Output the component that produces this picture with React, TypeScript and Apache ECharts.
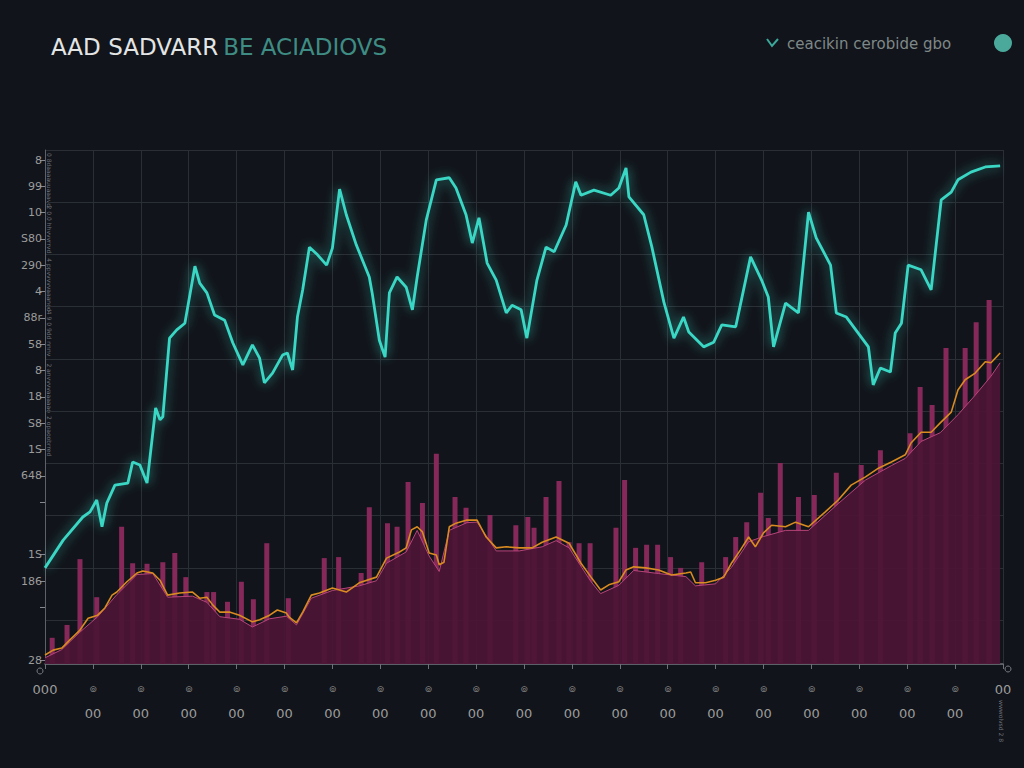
import { useEffect, useRef } from "react";
import * as echarts from "echarts";

// Heading and legend copy
const titleMain = "AAD SADVARR";
const titleAccent = "BE ACIADIOVS";
const legendLabel = "ceacikin cerobide gbo";

// Left tick labels, top to bottom ("" = tick only)
const yTickLabels = ["8", "99", "10", "S80", "290", "4", "88r", "58", "8", "18", "S8", "1S", "648", "", "", "1S", "186", "", "", "28"];
const yTickHidden = [14, 18];

// Bottom tick labels, one per step 0..20
const xUpperLabels = ["000", "⊚", "⊚", "⊚", "⊚", "⊚", "⊚", "⊚", "⊚", "⊚", "⊚", "⊚", "⊚", "⊚", "⊚", "⊚", "⊚", "⊚", "⊚", "⊚", "00"];
const xLowerLabels = ["", "00", "00", "00", "00", "00", "00", "00", "00", "00", "00", "00", "00", "00", "00", "00", "00", "00", "00", "00", ""];

// Small vertical notes in the left strip
const stripNotes = ["0 8daaaauuaaavd", "2 0.0 hhvvvrrvd", "4 ppvvvvvaaanod", "4 9 0 9dd nnnv", "2 anvvvvaaaaao", "2 opaoobrred"];

// Cyan signal line [x, y]
const signalLine: [number, number][] = [
  [0, 18.7], [0.38, 24.1], [0.79, 28.6], [0.94, 29.6], [1.08, 31.9], [1.19, 26.7], [1.29, 31.3], [1.46, 34.8],
  [1.73, 35.2], [1.83, 39.3], [1.98, 38.7], [2.13, 35.2], [2.31, 49.8], [2.4, 47.5], [2.46, 48.1], [2.6, 63.4],
  [2.75, 65], [2.92, 66.3], [3.13, 77.4], [3.23, 74.1], [3.38, 72.2], [3.54, 67.9], [3.75, 66.9], [3.92, 62.5],
  [4.13, 58.2], [4.33, 62.1], [4.48, 59.5], [4.58, 54.7], [4.75, 56.6], [4.96, 60.1], [5.06, 60.5], [5.17, 57.2],
  [5.27, 67.5], [5.38, 72.8], [5.52, 81.1], [5.69, 79.6], [5.88, 77.6], [6, 80.9], [6.15, 92.4], [6.29, 87.4],
  [6.5, 81.5], [6.77, 75.3], [6.83, 72.2], [6.98, 63], [7.1, 59.7], [7.19, 72.2], [7.35, 75.3], [7.54, 73.3],
  [7.67, 68.9], [7.77, 75.3], [7.96, 86.4], [8.17, 94.2], [8.44, 94.6], [8.58, 92.6], [8.79, 87.4], [8.92, 81.9],
  [9.06, 86.8], [9.23, 78], [9.42, 74.7], [9.63, 68.3], [9.75, 69.8], [9.94, 68.9], [10.06, 63.4], [10.27, 74.7],
  [10.46, 81.1], [10.63, 80.2], [10.88, 85.4], [11.08, 93.8], [11.19, 91.2], [11.46, 92.2], [11.81, 91.2], [11.98, 92.6],
  [12.13, 96.5], [12.19, 90.9], [12.5, 87.4], [12.67, 81.1], [12.92, 70.4], [13.13, 63.4], [13.33, 67.5], [13.44, 64.6],
  [13.75, 61.7], [13.96, 62.6], [14.06, 64.6], [14.13, 66], [14.42, 65.6], [14.73, 79.2], [14.96, 74.7], [15.1, 71.4],
  [15.21, 61.7], [15.46, 70.2], [15.73, 68.3], [15.94, 87.9], [16.1, 82.9], [16.4, 77.6], [16.52, 68.3], [16.73, 67.5],
  [17.19, 61.7], [17.29, 54.3], [17.44, 57.6], [17.65, 56.8], [17.75, 64.4], [17.88, 66.3], [18.02, 77.6], [18.29, 76.7],
  [18.5, 72.8], [18.71, 90.3], [18.92, 91.8], [19.06, 94.2], [19.33, 95.7], [19.63, 96.7], [19.94, 96.9],
];

// Orange trend line [x, y]
const trendLine: [number, number][] = [
  [0, 1.75], [0.17, 2.7], [0.35, 3.1], [0.52, 4.7], [0.73, 6.6], [0.9, 8.9], [1.1, 9.5], [1.25, 10.9],
  [1.4, 13.4], [1.5, 14], [1.71, 16], [1.92, 17.7], [2.04, 18.1], [2.25, 17.7], [2.4, 16.3], [2.56, 13.4],
  [2.81, 13.8], [3.08, 14], [3.23, 12.8], [3.38, 13], [3.5, 11.5], [3.65, 10.1], [3.85, 10.1], [4.06, 9.5],
  [4.33, 8.2], [4.48, 8.6], [4.69, 9.5], [4.85, 10.5], [5.04, 9.9], [5.1, 9.1], [5.25, 8], [5.38, 10.1],
  [5.56, 13.4], [5.73, 13.8], [6, 14.8], [6.29, 14], [6.56, 15.8], [6.92, 16.9], [7.13, 20.6], [7.4, 21.8],
  [7.54, 22.6], [7.65, 26.1], [7.77, 26.7], [7.88, 25.7], [8.02, 21.6], [8.17, 21.2], [8.23, 19.3], [8.33, 19.8],
  [8.44, 26.7], [8.58, 27.4], [8.81, 28], [9.02, 28], [9.21, 24.7], [9.42, 22.6], [9.63, 22.8], [9.9, 22.6],
  [10.17, 22.6], [10.38, 23.7], [10.67, 24.7], [10.94, 23.5], [11.19, 19.6], [11.4, 16.9], [11.6, 14.4], [11.77, 15.4],
  [11.98, 16], [12.13, 18.3], [12.29, 18.9], [12.54, 18.7], [12.81, 18.3], [13.08, 17.3], [13.38, 17.7], [13.48, 17.9],
  [13.58, 15.8], [13.79, 15.8], [14, 16.3], [14.17, 16.9], [14.33, 19.6], [14.52, 22.2], [14.69, 24.7], [14.83, 22.8],
  [15, 25.5], [15.17, 27], [15.46, 26.7], [15.67, 27.6], [15.94, 26.7], [16.29, 29.6], [16.56, 31.9], [16.83, 34.8],
  [17.13, 36.4], [17.4, 38.1], [17.67, 39.3], [17.96, 40.7], [18.08, 43], [18.29, 45.1], [18.5, 45.1], [18.69, 46.9],
  [18.92, 49], [19.06, 53.3], [19.21, 55.3], [19.42, 56.6], [19.63, 58.8], [19.75, 58.6], [19.94, 60.5],
];

// Filled base area [x, y]
const baseArea: [number, number][] = [
  [0, 1.2], [0.35, 2.8], [0.73, 6.2], [1.1, 9.2], [1.5, 13.5], [1.92, 17.4], [2.25, 17.6], [2.56, 13],
  [3.08, 13.2], [3.38, 12], [3.65, 9.2], [4.06, 8.7], [4.33, 7.2], [4.69, 8.8], [5.04, 9.3], [5.25, 7.6],
  [5.56, 12.8], [6, 14.3], [6.56, 15.2], [6.92, 16.2], [7.13, 19.6], [7.54, 21.8], [7.77, 26], [8.02, 21],
  [8.23, 18], [8.44, 26], [8.81, 27.5], [9.02, 27.6], [9.42, 22], [9.9, 22], [10.38, 22.8], [10.67, 24],
  [10.94, 22.6], [11.4, 16], [11.6, 13.7], [11.98, 15.3], [12.29, 18.2], [12.81, 17.6], [13.38, 17], [13.58, 15.2],
  [14, 15.6], [14.33, 18.8], [14.69, 23.8], [15, 24.8], [15.46, 26], [15.94, 26], [16.56, 31.2], [17.13, 35.8],
  [17.67, 38.6], [17.96, 40], [18.29, 43.3], [18.69, 45], [19.06, 48.5], [19.42, 52.3], [19.75, 56], [19.94, 58.6],
];

// Thin volume bars [x, y]
const volumeBars: [number, number][] = [
  [0.15, 5.1], [0.46, 7.6], [0.73, 20.4], [1.08, 13], [1.6, 26.7], [1.83, 19.6], [2.13, 19.5], [2.46, 19.8],
  [2.71, 21.6], [2.94, 16.9], [3.38, 14], [3.52, 14], [3.81, 12.1], [4.1, 16], [4.35, 12.6], [4.63, 23.5],
  [5.08, 12.8], [5.83, 20.6], [6.13, 20.8], [6.6, 17.7], [6.77, 30.5], [7.15, 27.4], [7.35, 26.7], [7.58, 35.4],
  [7.88, 31.3], [8.17, 40.9], [8.56, 32.5], [8.79, 30.4], [9.29, 29], [9.83, 27], [10.08, 28.6], [10.21, 26.5],
  [10.46, 32.5], [10.73, 35.6], [10.94, 23.7], [11.15, 23.5], [11.38, 23.5], [11.92, 26.5], [12.1, 35.8], [12.33, 22.6],
  [12.56, 23.2], [12.79, 23.2], [13.06, 20.8], [13.27, 18.7], [13.71, 19.8], [14.21, 20.8], [14.42, 24.7], [14.65, 27.6],
  [14.94, 33.3], [15.1, 28.4], [15.35, 39.1], [15.73, 32.5], [16.06, 32.9], [16.52, 37.2], [17.04, 38.7], [17.44, 41.6],
  [18.06, 44.9], [18.27, 53.9], [18.52, 50.4], [18.81, 61.5], [19.21, 61.5], [19.44, 66.5], [19.71, 70.8],
];

const FONT = "DejaVu Sans";

export default function App() {
  const ref = useRef<HTMLDivElement>(null);

  useEffect(() => {
    if (!ref.current) return;
    const chart = echarts.init(ref.current, undefined, { renderer: "svg" });

    const stripGraphics = stripNotes.map((t, i) => ({
      type: "text",
      x: 49,
      y: 153 + i * 52.6,
      rotation: -Math.PI / 2,
      style: { text: t, fill: "#6c7078", fontSize: 6, fontFamily: FONT, textAlign: "left", textVerticalAlign: "middle" },
      silent: true,
    }));

    chart.setOption({
      animation: false,
      backgroundColor: "#11141a",
      title: {
        text: `{a|${titleMain}} {b|${titleAccent}}`,
        left: 46,
        top: 29,
        textStyle: {
          fontWeight: "normal",
          rich: {
            a: { fontFamily: FONT, fontSize: 23, fontWeight: "normal", color: "#e3e5e5", lineHeight: 26 },
            b: { fontFamily: FONT, fontSize: 23, fontWeight: "normal", color: "#3e8c83", lineHeight: 26 },
          },
        },
      },
      grid: [
        { left: 45, right: 21, top: 150, bottom: 104 },
        { left: 45, right: 21, top: 160, bottom: 108 },
      ],
      xAxis: [
        {
          type: "value",
          gridIndex: 0,
          min: 0,
          max: 20,
          interval: 1,
          axisLine: { show: true, onZero: false, lineStyle: { color: "#6e7178", width: 1.5 } },
          axisTick: { show: true, length: 5, lineStyle: { color: "#6e7178" } },
          splitLine: { show: true, lineStyle: { color: "#2a2e35", width: 1 } },
          axisLabel: {
            margin: 14,
            color: "#8b8b8b",
            formatter: (v: number) => {
              const k = Math.round(v);
              const up = xUpperLabels[k] ?? "";
              const low = xLowerLabels[k] ?? "";
              return low ? `{c|${up}}\n{n|${low}}` : `{z|${up}}`;
            },
            rich: {
              c: { fontSize: 9, lineHeight: 22, color: "#858585", fontFamily: FONT },
              n: { fontSize: 13, lineHeight: 26, color: "#9c9c9c", fontFamily: FONT },
              z: { fontSize: 13, lineHeight: 22, color: "#9c9c9c", fontFamily: FONT },
            },
          },
        },
        { type: "value", gridIndex: 1, show: false, min: 0, max: 1 },
      ],
      yAxis: [
        {
          type: "value",
          gridIndex: 0,
          min: 0,
          max: 100,
          axisLine: { show: true, lineStyle: { color: "#5e6168", width: 1 } },
          axisTick: { show: false },
          axisLabel: { show: false },
          splitLine: { show: false },
        },
        {
          type: "value",
          gridIndex: 0,
          inverse: true,
          min: 0,
          max: 9.84,
          interval: 1,
          axisLine: { show: false },
          axisTick: { show: false },
          axisLabel: { show: false },
          splitLine: { show: true, lineStyle: { color: "#2a2e35", width: 1 } },
        },
        {
          type: "category",
          gridIndex: 1,
          position: "left",
          inverse: true,
          boundaryGap: false,
          data: yTickLabels,
          axisLine: { show: false },
          axisTick: {
            show: true,
            length: 5,
            interval: (i: number) => !yTickHidden.includes(i),
            lineStyle: { color: "#85888e" },
          },
          axisLabel: { interval: 0, color: "#9c9c9c", fontSize: 11, margin: 3, fontFamily: FONT },
          splitLine: { show: false },
        },
      ],
      series: [
        {
          type: "bar",
          name: "volume",
          xAxisIndex: 0,
          yAxisIndex: 0,
          data: volumeBars,
          barWidth: 5,
          itemStyle: { color: "#86295a" },
          z: 1,
        },
        {
          type: "line",
          name: "base",
          xAxisIndex: 0,
          yAxisIndex: 0,
          data: baseArea,
          symbol: "none",
          lineStyle: { color: "#b9447a", width: 1 },
          areaStyle: { color: "rgba(76,20,54,0.93)", opacity: 1, origin: "start" },
          z: 2,
        },
        {
          type: "line",
          name: "trend",
          xAxisIndex: 0,
          yAxisIndex: 0,
          data: trendLine,
          symbol: "none",
          lineStyle: { color: "#d98b22", width: 1.6 },
          z: 3,
        },
        {
          type: "line",
          name: legendLabel,
          xAxisIndex: 0,
          yAxisIndex: 0,
          data: signalLine,
          symbol: "none",
          lineStyle: { color: "#3ad7c5", width: 2.8, shadowBlur: 12, shadowColor: "rgba(58,215,197,0.7)" },
          z: 4,
        },
      ],
      graphic: [
        {
          type: "polyline",
          shape: { points: [[767, 39], [772, 46], [778, 39]] },
          style: { stroke: "#3aa89a", lineWidth: 2, fill: "none" },
          silent: true,
        },
        {
          type: "text",
          x: 787,
          y: 44,
          style: { text: legendLabel, fill: "#7f8888", fontSize: 15, fontFamily: FONT, textVerticalAlign: "middle" },
          silent: true,
        },
        {
          type: "circle",
          shape: { cx: 1003, cy: 43, r: 9 },
          style: { fill: "#4aa99b" },
          silent: true,
        },
        {
          type: "circle",
          shape: { cx: 40, cy: 671, r: 3 },
          style: { fill: "none", stroke: "#7a7d83", lineWidth: 1 },
          silent: true,
        },
        {
          type: "circle",
          shape: { cx: 1008, cy: 669, r: 3 },
          style: { fill: "none", stroke: "#7a7d83", lineWidth: 1 },
          silent: true,
        },
        {
          type: "text",
          x: 1001,
          y: 700,
          rotation: -Math.PI / 2,
          style: { text: "wwwolvsd 2 8", fill: "#6c7078", fontSize: 6, fontFamily: FONT, textVerticalAlign: "middle" },
          silent: true,
        },
        ...stripGraphics,
      ],
    });

    return () => chart.dispose();
  }, []);

  return (
    <div
      ref={ref}
      style={{ position: "fixed", left: 0, top: 0, width: 1024, height: 768, background: "#11141a" }}
    />
  );
}
